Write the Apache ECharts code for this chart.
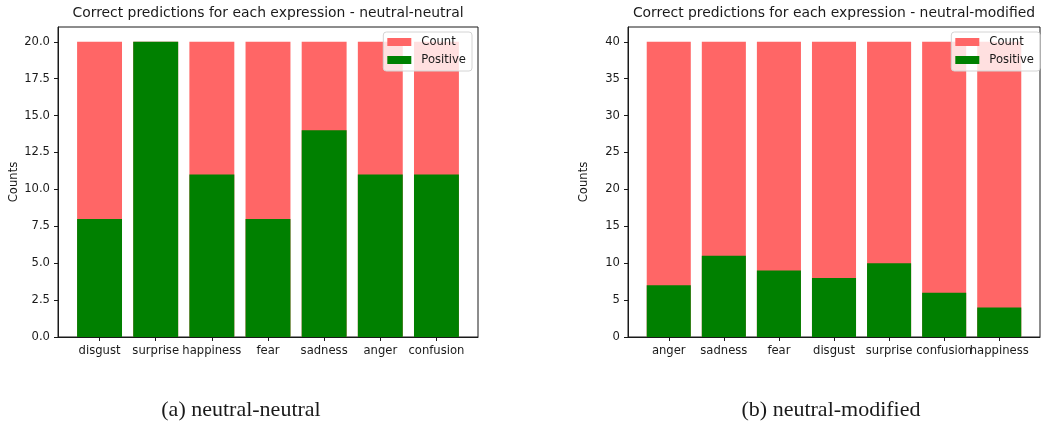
<!DOCTYPE html>
<html>
<head>
<meta charset="utf-8">
<script src="https://cdn.jsdelivr.net/npm/echarts@6/dist/echarts.min.js"></script>
<style>
  html, body { margin: 0; padding: 0; background: #fff; }
  #chart { width: 1043px; height: 423px; }
</style>
</head>
<body>
<div id="chart"></div>
<script>
// ---- data ----
const categoriesA = ['disgust', 'surprise', 'happiness', 'fear', 'sadness', 'anger', 'confusion'];
const countA = [20, 20, 20, 20, 20, 20, 20];
const positiveA = [8, 20, 11, 8, 14, 11, 11];
const yTicksA = [0, 2.5, 5, 7.5, 10, 12.5, 15, 17.5, 20];

const categoriesB = ['anger', 'sadness', 'fear', 'disgust', 'surprise', 'confusion', 'happiness'];
const countB = [40, 40, 40, 40, 40, 40, 40];
const positiveB = [7, 11, 9, 8, 10, 6, 4];
const yTicksB = [0, 5, 10, 15, 20, 25, 30, 35, 40];

const titleA = 'Correct predictions for each expression - neutral-neutral';
const titleB = 'Correct predictions for each expression - neutral-modified';
const captionA = '(a) neutral-neutral';
const captionB = '(b) neutral-modified';

// ---- style ----
const W = 1043, H = 423;
const RED = '#ff6666', GREEN = '#008000', INK = '#1a1a1a';
const SANS = 'DejaVu Sans';
const gridA = { left: 58, right: W - 478, top: 27, bottom: H - 337 };
const gridB = { left: 628, right: W - 1040, top: 27, bottom: H - 337 };
const BARW = 0.8, MARGIN = 0.05;

function xExtent(n) {
  const lo = -BARW / 2, hi = n - 1 + BARW / 2, span = hi - lo;
  return [lo - MARGIN * span, hi + MARGIN * span];
}
function barPx(grid, n) {
  const w = W - grid.left - grid.right;
  const [a, b] = xExtent(n);
  return w * BARW / (b - a);
}
function pairs(vals) { return vals.map((v, i) => [i, v]); }

function xAxisFor(cats, gi) {
  const [mn, mx] = xExtent(cats.length);
  const idx = cats.map((c, i) => i);
  // empty edge labels keep ECharts' min/max-label overlap rule away from real labels
  const labelVals = [mn].concat(idx, [mx]);
  return {
    type: 'value', gridIndex: gi, min: mn, max: mx,
    splitLine: { show: false },
    axisLine: { show: true, onZero: false, lineStyle: { color: INK, width: 1 } },
    axisTick: { show: true, customValues: idx, length: 4, lineStyle: { color: INK } },
    axisLabel: { customValues: labelVals,
                 formatter: v => (Math.abs(v - Math.round(v)) < 1e-6 ? (cats[Math.round(v)] || '') : ''),
                 color: INK, fontFamily: SANS, fontSize: 11.6, margin: 8, hideOverlap: false }
  };
}
function yAxisFor(ticks, max, gi, fmt) {
  return {
    type: 'value', gridIndex: gi, min: 0, max: max,
    name: 'Counts', nameLocation: 'middle', nameGap: 38,
    nameTextStyle: { color: INK, fontFamily: SANS, fontSize: 11.6 },
    splitLine: { show: false },
    axisLine: { show: true, onZero: false, lineStyle: { color: INK, width: 1 } },
    axisTick: { show: true, customValues: ticks, length: 4, lineStyle: { color: INK } },
    axisLabel: { customValues: ticks, formatter: fmt, color: INK,
                 fontFamily: SANS, fontSize: 11.6, margin: 8, hideOverlap: false }
  };
}
function legendFor(right) {
  return {
    data: ['Count', 'Positive'], orient: 'vertical', right: right, top: 32,
    icon: 'rect', itemWidth: 24, itemHeight: 8, itemGap: 6,
    padding: [4, 6, 5, 4],
    backgroundColor: 'rgba(255,255,255,0.8)', borderColor: '#d4d4d4', borderWidth: 1, borderRadius: 3,
    textStyle: { color: INK, fontFamily: SANS, fontSize: 11.6, lineHeight: 12, padding: [0, 0, 0, 5] },
    selectedMode: false
  };
}
function barSeries(name, vals, color, gi, bw) {
  return {
    type: 'bar', name: name, xAxisIndex: gi, yAxisIndex: gi,
    data: pairs(vals), barWidth: bw, barGap: '-100%',
    itemStyle: { color: color }, animation: false
  };
}
function txt(x, y, text, font) {
  return { type: 'text', x: x, y: y, style: { text: text, font: font, fill: INK, align: 'center', verticalAlign: 'middle' } };
}

const bwA = barPx(gridA, categoriesA.length);
const bwB = barPx(gridB, categoriesB.length);

const option = {
  animation: false,
  grid: [
    Object.assign({ show: true, borderColor: INK, borderWidth: 1 }, gridA),
    Object.assign({ show: true, borderColor: INK, borderWidth: 1 }, gridB)
  ],
  xAxis: [xAxisFor(categoriesA, 0), xAxisFor(categoriesB, 1)],
  yAxis: [
    yAxisFor(yTicksA, 21, 0, v => v.toFixed(1)),
    yAxisFor(yTicksB, 42, 1, v => String(v))
  ],
  legend: [legendFor(W - 472), legendFor(W - 1040)],
  series: [
    barSeries('Count', countA, RED, 0, bwA),
    barSeries('Positive', positiveA, GREEN, 0, bwA),
    barSeries('Count', countB, RED, 1, bwB),
    barSeries('Positive', positiveB, GREEN, 1, bwB)
  ],
  graphic: [
    txt((gridA.left + W - gridA.right) / 2, 13, titleA, '13.9px "DejaVu Sans"'),
    txt((gridB.left + W - gridB.right) / 2, 13, titleB, '13.9px "DejaVu Sans"'),
    txt(241, 410, captionA, '22px "Liberation Serif"'),
    txt(831, 410, captionB, '22px "Liberation Serif"')
  ]
};

const chart = echarts.init(document.getElementById('chart'), null, { renderer: 'canvas' });
chart.setOption(option);
</script>
</body>
</html>
